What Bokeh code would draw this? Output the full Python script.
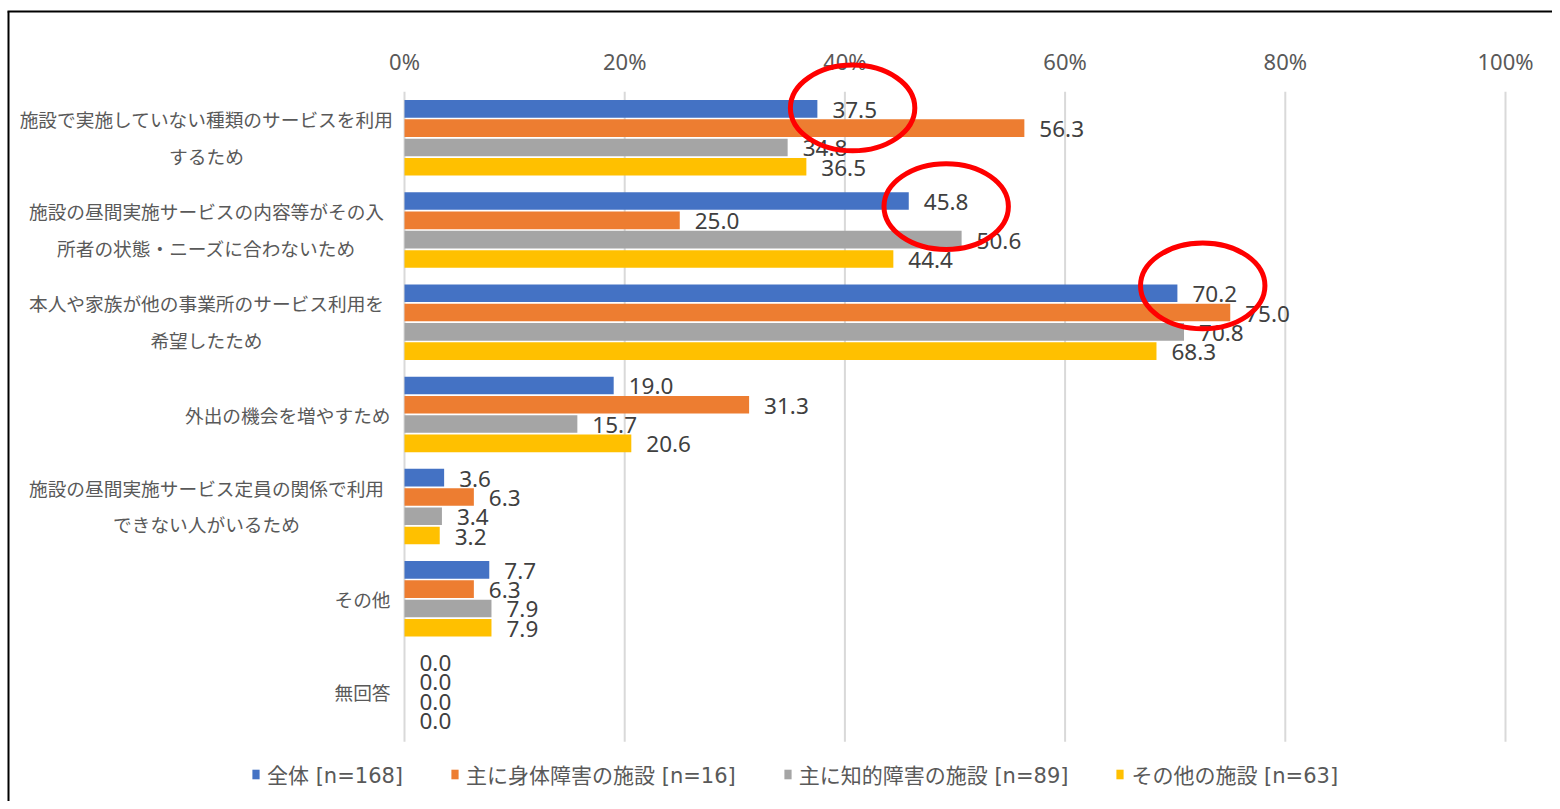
from bokeh.plotting import figure
from bokeh.models import Range1d, Legend, LegendItem
from bokeh.core.properties import value
from bokeh.embed import file_html
from bokeh.resources import INLINE

# ---------------- data ----------------
categories = [
    "施設で実施していない種類のサービスを利用\nするため",
    "施設の昼間実施サービスの内容等がその入\n所者の状態・ニーズに合わないため",
    "本人や家族が他の事業所のサービス利用を\n希望したため",
    "外出の機会を増やすため",
    "施設の昼間実施サービス定員の関係で利用\nできない人がいるため",
    "その他",
    "無回答",
]
series_names = ["全体 [n=168]", "主に身体障害の施設 [n=16]", "主に知的障害の施設 [n=89]", "その他の施設 [n=63]"]
total = [37.5, 45.8, 70.2, 19.0, 3.6, 7.7, 0.0]
physical = [56.3, 25.0, 75.0, 31.3, 6.3, 6.3, 0.0]
intellectual = [34.8, 50.6, 70.8, 15.7, 3.4, 7.9, 0.0]
other = [36.5, 44.4, 68.3, 20.6, 3.2, 7.9, 0.0]
x_ticks = [0, 20, 40, 60, 80, 100]
tick_labels = ["0%", "20%", "40%", "60%", "80%", "100%"]
highlighted = [0, 1, 2]  # categories whose 全体 label is circled

# ---------------- styling / layout ----------------
colors = ["#4472C4", "#ED7D31", "#A5A5A5", "#FFC000"]
W, H = 1552, 801
PX_X = 11.01          # px per percent
X0_PX = 404           # canvas px of 0%
PX_Y = 92.2           # px per category
Y0_PX = 137.3         # canvas px of first category centre
STEP = 19.3 / PX_Y
BAR_H = 17.6 / PX_Y
FONT_JP = value("Noto Sans CJK JP")
FONT_NUM = value("Noto Sans")


def xd(px):
    return (px - X0_PX) / PX_X


def yd(py):
    return (py - Y0_PX) / PX_Y


p = figure(
    width=W, height=H,
    x_range=Range1d(xd(0), xd(W)),
    y_range=Range1d(yd(H), yd(0)),
    x_axis_type=None, y_axis_type=None,
    min_border=0, toolbar_location=None, output_backend="svg",
)
p.outline_line_color = None
p.background_fill_color = "white"
p.border_fill_color = "white"

# chart border (left and top edges of the chart box)
p.segment(x0=[xd(8), xd(7)], y0=[yd(11), yd(11)], x1=[xd(8), xd(W + 5)], y1=[yd(H + 5), yd(11)],
          line_color="black", line_width=2)

n = len(categories)
ypos = list(range(n))

# grid lines
p.segment(x0=x_ticks, y0=[-0.5] * len(x_ticks), x1=x_ticks, y1=[n - 0.45] * len(x_ticks),
          line_color="#D9D9D9", line_width=2)

# tick labels (top)
p.text(x=x_ticks, y=[yd(60)] * len(x_ticks), text=tick_labels,
       text_align="center", text_baseline="middle",
       text_font=FONT_NUM, text_font_size="22px", text_color="#595959")

# bars + value labels
all_series = [total, physical, intellectual, other]
items = []
for k, vals in enumerate(all_series):
    ys = [i + (k - 1.5) * STEP for i in ypos]
    r = p.hbar(y=ys, left=0, right=vals, height=BAR_H, fill_color=colors[k], line_color=None)
    items.append(LegendItem(label=series_names[k], renderers=[r]))
    p.text(x=vals, y=ys, text=[f"{v:.1f}" for v in vals], x_offset=15, y_offset=1,
           text_align="left", text_baseline="middle",
           text_font=FONT_NUM, text_font_size="22.5px", text_color="#404040")

# category labels
multi_idx = [i for i, c in enumerate(categories) if "\n" in c]
single_idx = [i for i, c in enumerate(categories) if "\n" not in c]
p.text(x=[0] * len(multi_idx), y=[ypos[i] for i in multi_idx], text=[categories[i] for i in multi_idx],
       x_offset=-198, y_offset=-1, text_align="center", text_baseline="middle", text_line_height=1.36,
       text_font=FONT_JP, text_font_size="18.7px", text_color="#595959")
p.text(x=[0] * len(single_idx), y=[ypos[i] for i in single_idx], text=[categories[i] for i in single_idx],
       x_offset=-14, text_align="right", text_baseline="middle",
       text_font=FONT_JP, text_font_size="18.7px", text_color="#595959")

# red highlight ellipses around the 全体 labels
e_dx = [3.2, 3.4, 2.3]
e_dy = [-0.01, 0.06, -0.08]
p.ellipse(x=[total[i] + e_dx[j] for j, i in enumerate(highlighted)],
          y=[i - 1.5 * STEP + e_dy[j] for j, i in enumerate(highlighted)],
          width=11.3, height=0.93, fill_color=None, line_color="#FF0000", line_width=5)

legend = Legend(items=items, location=(251, 12), orientation="horizontal",
                border_line_color=None, background_fill_alpha=0,
                label_text_font="DejaVu Sans, Noto Sans CJK JP", label_text_font_size="21px",
                label_text_color="#595959",
                glyph_width=9, glyph_height=12, spacing=47, label_standoff=7,
                margin=0, padding=5)
p.add_layout(legend)

open("out.html", "w").write(file_html(p, INLINE))
